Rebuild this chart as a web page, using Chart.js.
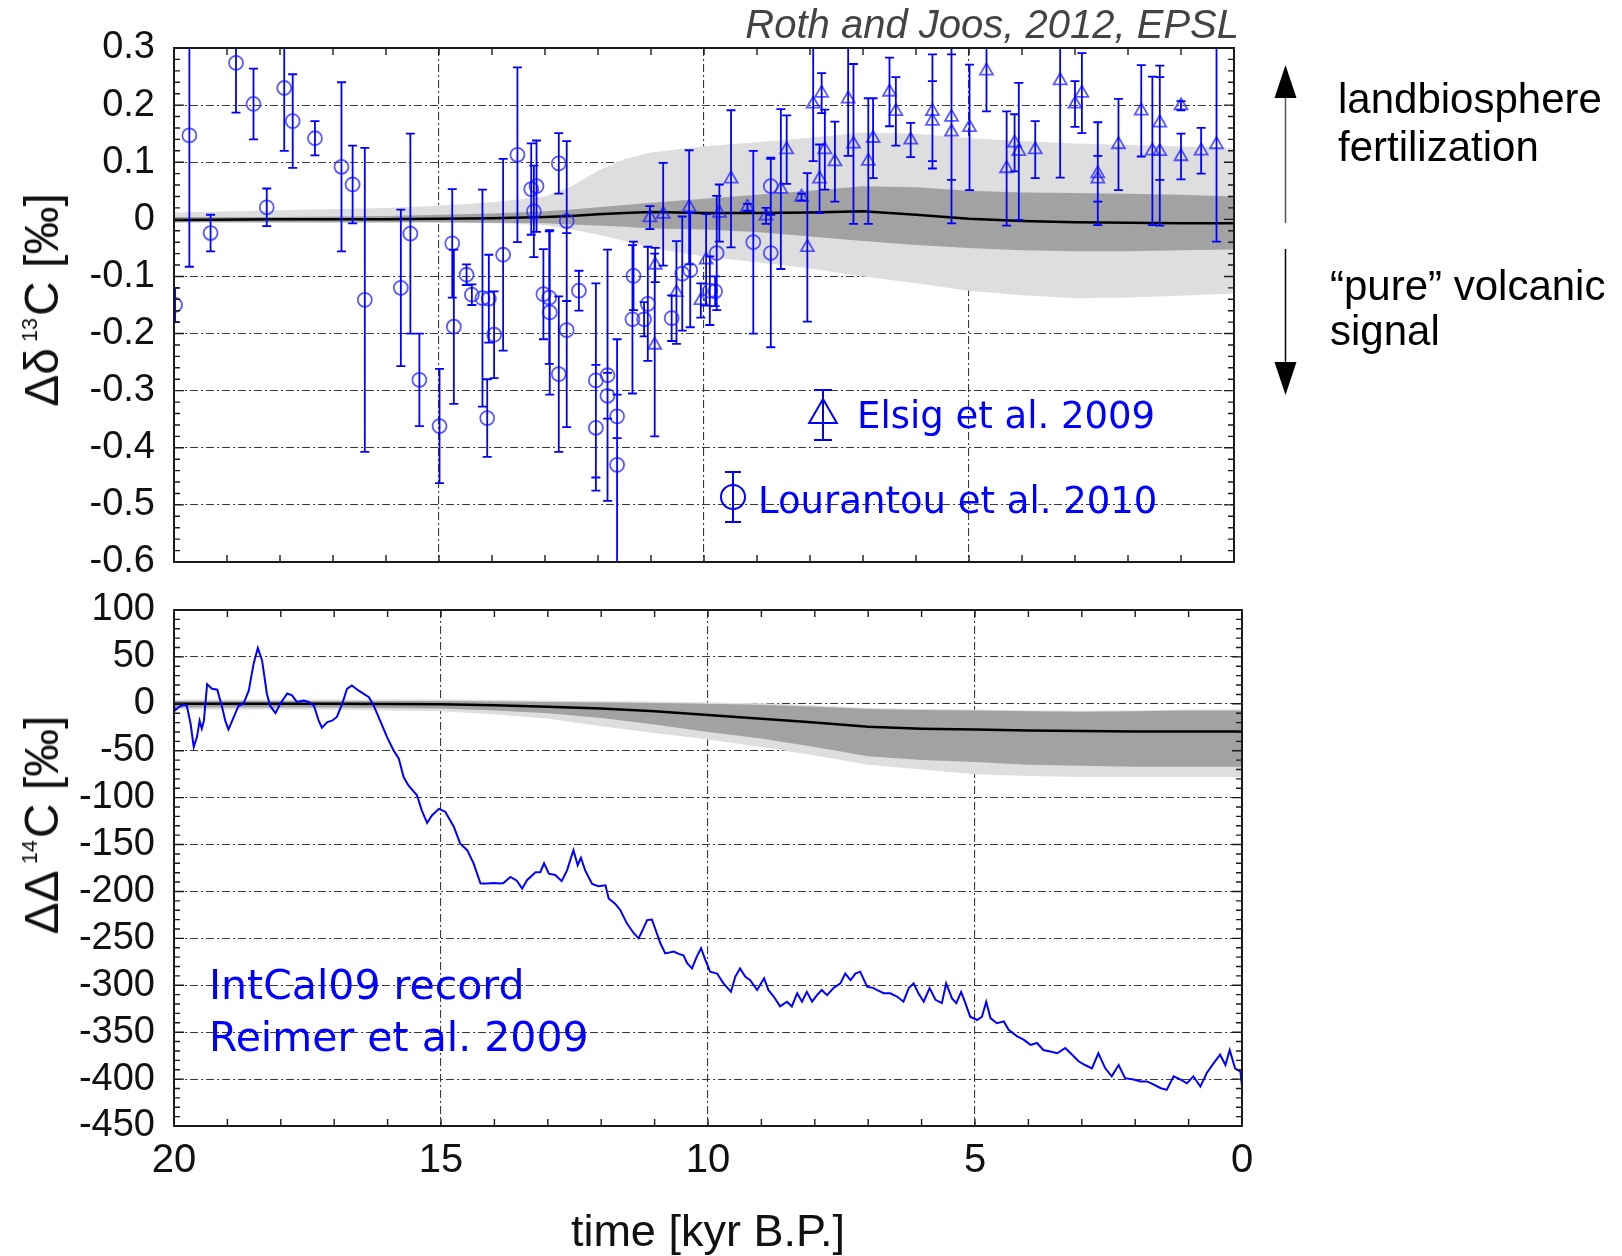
<!DOCTYPE html>
<html>
<head>
<meta charset="utf-8">
<script src="https://cdn.jsdelivr.net/npm/chart.js@4.4.1/dist/chart.umd.min.js"></script>
<style>
  body { margin: 0; background: #fff; }
  #wrap { position: relative; width: 1622px; height: 1256px; overflow: hidden; font-family: "Liberation Sans", Arial, sans-serif; color: #111; }
  canvas { position: absolute; left: 0; }
  .t { position: absolute; white-space: nowrap; line-height: 1; }
  .yt { position: absolute; white-space: nowrap; line-height: 1; font-size: 48px; transform: translate(-50%, -50%) rotate(-90deg); }
  .sup { font-size: 0.45em; position: relative; top: -0.95em; margin: 0 2px 0 6px; }
  .leg { font-family: "DejaVu Sans", sans-serif; font-size: 37px; color: #0000ff; }
  .leg2 { font-family: "DejaVu Sans", sans-serif; font-size: 41px; color: #0000ff; }
  .note { font-size: 42px; color: #000; }
</style>
</head>
<body>
<div id="wrap">
  <canvas id="c13" width="1622" height="607" style="top:0"></canvas>
  <canvas id="c14" width="1622" height="696" style="top:560px"></canvas>

  <div class="t" style="right:383px; top:4px; font-size:40px; font-style:italic; color:#444">Roth and Joos, 2012, EPSL</div>

  <div class="yt" style="left:42px; top:300px">Δδ<span class="sup">13</span>C [‰]</div>
  <div class="yt" style="left:42px; top:825px">ΔΔ<span class="sup">14</span>C [‰]</div>

  <div class="t leg" style="left:857px; top:397px">Elsig et al. 2009</div>
  <div class="t leg" style="left:758px; top:482px">Lourantou et al. 2010</div>
  <div class="t leg2" style="left:209px; top:965px">IntCal09 record</div>
  <div class="t leg2" style="left:209px; top:1017px">Reimer et al. 2009</div>

  <svg style="position:absolute; left:0; top:0" width="1622" height="420">
    <line x1="1285.5" y1="98" x2="1285.5" y2="223" stroke="#555" stroke-width="1.5"/>
    <polygon points="1285.5,65 1274.5,98 1296.5,98" fill="#000"/>
    <line x1="1285.5" y1="249" x2="1285.5" y2="362" stroke="#000" stroke-width="1.5"/>
    <polygon points="1274.5,362 1296.5,362 1285.5,395" fill="#000"/>
  </svg>
  <div class="t note" style="left:1338px; top:75px; line-height:48px">landbiosphere<br>fertilization</div>
  <div class="t note" style="left:1330px; top:263px; line-height:45px">“pure” volcanic<br>signal</div>
</div>

<script>
// ---- top panel: model ensemble for d13C (kyr B.P.)
const bandKyr13 = [20, 18, 16, 15, 14, 13, 12.5, 12, 11.5, 11, 10, 9, 8, 7, 6, 5, 4, 3, 2, 1, 0];
const median13  = [-0.001, 0, 0, 0.001, 0.002, 0.004, 0.006, 0.009, 0.011, 0.013, 0.011, 0.011, 0.012, 0.014, 0.008, 0.001, -0.003, -0.005, -0.006, -0.007, -0.007];
const darkHi13  = [0.004, 0.004, 0.006, 0.008, 0.010, 0.014, 0.017, 0.021, 0.025, 0.029, 0.036, 0.043, 0.050, 0.058, 0.056, 0.050, 0.047, 0.046, 0.045, 0.043, 0.040];
const darkLo13  = [-0.005, -0.005, -0.005, -0.005, -0.006, -0.007, -0.009, -0.011, -0.013, -0.016, -0.018, -0.022, -0.030, -0.038, -0.045, -0.050, -0.054, -0.056, -0.056, -0.054, -0.053];
const lightHi13 = [0.012, 0.016, 0.020, 0.024, 0.030, 0.040, 0.058, 0.085, 0.105, 0.117, 0.128, 0.135, 0.143, 0.152, 0.150, 0.142, 0.137, 0.133, 0.130, 0.128, 0.125];
const lightLo13 = [-0.006, -0.006, -0.006, -0.006, -0.007, -0.010, -0.018, -0.027, -0.038, -0.050, -0.065, -0.075, -0.086, -0.100, -0.112, -0.125, -0.133, -0.138, -0.137, -0.134, -0.130];

// Lourantou et al. 2010 (circles)
const lourKyr = [19.98, 19.71, 19.31, 18.83, 18.50, 18.25, 17.92, 17.76, 17.34, 16.84, 16.63, 16.40, 15.72, 15.54, 15.37, 14.99, 14.75, 14.72, 14.48, 14.38,
                 14.18, 14.09, 14.06, 13.96, 13.79, 13.52, 13.26, 13.21, 13.16, 13.03, 12.92, 12.91, 12.74, 12.74, 12.59, 12.59, 12.36, 12.04, 12.04, 11.82,
                 11.82, 11.64, 11.64, 11.35, 11.33, 11.13, 11.06, 10.61, 10.41, 10.26, 9.89, 9.79, 9.76, 9.07, 8.74, 8.74];
const lourVal = [-0.150, 0.147, -0.024, 0.274, 0.202, 0.021, 0.230, 0.172, 0.142, 0.092, 0.061, -0.141, -0.120, -0.025, -0.281, -0.362, -0.042, -0.188, -0.097, -0.132,
                 -0.138, -0.348, -0.139, -0.202, -0.062, 0.113, 0.053, 0.014, 0.058, -0.131, -0.137, -0.163, 0.098, -0.271, -0.003, -0.194, -0.125, -0.282, -0.365, -0.273,
                 -0.309, -0.345, -0.430, -0.175, -0.099, -0.175, -0.148, -0.173, -0.095, -0.089, -0.125, -0.126, -0.059, -0.040, 0.058, -0.059];
const lourErr = [0.030, 0.230, 0.032, 0.087, 0.062, 0.033, 0.110, 0.082, 0.030, 0.148, 0.068, 0.266, 0.137, 0.175, 0.081, 0.100, 0.095, 0.135, 0.018, 0.018,
                 0.190, 0.068, 0.077, 0.076, 0.168, 0.153, 0.080, 0.080, 0.080, 0.079, 0.116, 0.144, 0.053, 0.136, 0.140, 0.170, 0.035, 0.170, 0.110, 0.220,
                 0.040, 0.038, 0.220, 0.130, 0.060, 0.030, 0.100, 0.040, 0.100, 0.100, 0.060, 0.026, 0.100, 0.160, 0.050, 0.165];

// Elsig et al. 2009 (triangles)
const elsigKyr = [11.02, 10.93, 10.92, 10.77, 10.52, 10.28, 10.06, 9.96, 9.71, 9.49, 9.18, 8.83, 8.55, 8.44, 8.16, 8.05, 7.94, 7.82, 7.78, 7.72,
                  7.53, 7.28, 7.18, 6.90, 6.81, 6.50, 6.38, 6.10, 5.69, 5.69, 5.33, 5.33, 4.99, 4.67, 4.29, 4.14, 4.06, 3.75, 3.28, 3.00,
                  2.87, 2.57, 2.57, 2.18, 1.75, 1.54, 1.40, 1.40, 1.00, 1.00, 0.62, 0.33];
const elsigVal = [0.003, -0.220, -0.080, 0.009, -0.128, 0.021, -0.142, -0.071, 0.011, 0.071, 0.021, 0.006, 0.053, 0.122, 0.039, -0.049, 0.202, 0.071, 0.221, 0.122,
                  0.101, 0.211, 0.132, 0.102, 0.142, 0.223, 0.189, 0.139, 0.189, 0.172, 0.179, 0.153, 0.161, 0.260, 0.089, 0.134, 0.119, 0.122, 0.243, 0.202,
                  0.221, 0.080, 0.071, 0.131, 0.190, 0.120, 0.169, 0.119, 0.199, 0.110, 0.120, 0.131];
const elsigErr = [0.020, 0.160, 0.030, 0.090, 0.090, 0.100, 0.030, 0.080, 0.050, 0.120, 0.006, 0.014, 0.140, 0.060, 0.006, 0.130, 0.100, 0.060, 0.035, 0.070,
                  0.070, 0.100, 0.140, 0.110, 0.070, 0.060, 0.060, 0.030, 0.100, 0.070, 0.110, 0.160, 0.110, 0.071, 0.100, 0.050, 0.120, 0.050, 0.170, 0.040,
                  0.070, 0.090, 0.040, 0.080, 0.080, 0.130, 0.100, 0.130, 0.008, 0.040, 0.040, 0.170];

// ---- bottom panel: model ensemble for D14C
const bandKyr14 = [20, 17, 15, 14, 13, 12, 11, 10, 9, 8, 7, 6, 5, 4, 3, 2, 1, 0];
const median14  = [0, 0, -0.5, -1.5, -3, -5, -8, -12, -16, -20, -24.5, -26.5, -27.5, -28.5, -29, -29.5, -29.5, -29.5];
const darkHi14  = [3, 3, 3, 2.5, 2, 1.5, 1, 0, -1, -3, -5.5, -6.5, -7, -8, -8.5, -8, -7, -7];
const darkLo14  = [-4, -4, -5, -7, -10, -15, -22, -30, -37, -46, -56, -60, -62, -65, -66, -67, -67, -67];
const lightHi14 = [4.5, 4.5, 4.5, 4, 3.5, 3, 2.5, 1.5, 0.5, -1.5, -4.5, -5.5, -6, -7, -7.5, -7, -6, -6];
const lightLo14 = [-6, -6, -8, -11, -16, -24, -31, -38, -46, -55, -65, -70, -75, -77, -78, -78, -78, -78];

// IntCal09 record, Reimer et al. 2009
const intcalKyr = [20.00, 19.98, 19.91, 19.82, 19.76, 19.69, 19.63, 19.57, 19.52, 19.48, 19.44, 19.38, 19.29, 19.19, 19.10, 19.04, 18.98, 18.88, 18.79, 18.70,
  18.60, 18.51, 18.43, 18.35, 18.26, 18.20, 18.10, 18.01, 17.88, 17.79, 17.70, 17.57, 17.48, 17.38, 17.29, 17.23, 17.13, 17.04, 16.95, 16.85,
  16.76, 16.67, 16.54, 16.35, 16.26, 16.14, 16.01, 15.89, 15.79, 15.70, 15.61, 15.45, 15.36, 15.26, 15.17, 15.04, 14.92, 14.76, 14.64, 14.51,
  14.39, 14.26, 14.14, 14.01, 13.89, 13.83, 13.70, 13.58, 13.48, 13.39, 13.23, 13.14, 13.07, 12.98, 12.86, 12.74, 12.64, 12.52, 12.44, 12.38,
  12.30, 12.17, 12.05, 11.92, 11.86, 11.74, 11.64, 11.52, 11.39, 11.30, 11.24, 11.14, 11.05, 10.99, 10.89, 10.80, 10.64, 10.55, 10.46, 10.39,
  10.30, 10.21, 10.13, 10.05, 9.96, 9.83, 9.71, 9.57, 9.49, 9.40, 9.30, 9.21, 9.08, 8.95, 8.87, 8.77, 8.65, 8.52, 8.43, 8.33,
  8.24, 8.15, 8.05, 7.96, 7.87, 7.77, 7.65, 7.52, 7.43, 7.33, 7.24, 7.15, 7.02, 6.90, 6.84, 6.71, 6.59, 6.46, 6.34, 6.24,
  6.15, 6.06, 5.96, 5.85, 5.74, 5.62, 5.54, 5.43, 5.35, 5.26, 5.18, 5.09, 4.96, 4.87, 4.79, 4.71, 4.59, 4.46, 4.37, 4.21,
  4.09, 3.96, 3.84, 3.72, 3.59, 3.46, 3.31, 3.18, 3.06, 2.94, 2.81, 2.69, 2.56, 2.44, 2.31, 2.19, 2.03, 1.90, 1.78, 1.65,
  1.53, 1.41, 1.28, 1.15, 1.03, 0.91, 0.78, 0.66, 0.53, 0.41, 0.31, 0.23, 0.13, 0.03, 0.00];
const intcalVal = [-2, -7, -3.5, -1, -2, -21, -46, -35.5, -18, -26.5, -18, 21, 16, 15, -3.5, -18, -27.5, -14, -2, 0,
  14, 42.5, 59.5, 46, 10.5, -2, -10, 0, 11, 9, 2, 3.5, 2, -2, -18, -25.5, -19.5, -18, -14, 0,
  16, 19.5, 14, 7, -2, -18, -35.5, -49.5, -58.5, -78, -87, -97.5, -113.5, -127, -119, -112, -115, -131, -149, -156,
  -170, -191.5, -191.5, -191, -191.5, -191, -184.5, -188.5, -197, -188, -179.5, -179.5, -170, -181, -182.5, -189, -177.5, -156, -172, -164,
  -177.5, -192, -194.5, -193.5, -207.5, -213, -220, -234, -244.5, -250, -243, -230.5, -230, -239.5, -255.5, -266, -264, -266.5, -268, -276.5,
  -282, -269.5, -260.5, -273, -285.5, -287.5, -298, -307, -291, -282, -291, -294.5, -305, -292.5, -305, -312, -322.5, -317.5, -322.5, -308.5,
  -317.5, -307, -317.5, -310.5, -305, -310.5, -303, -298, -287.5, -294.5, -287.5, -285.5, -301.5, -303, -305, -308.5, -308.5, -312, -317.5, -303,
  -298, -308.5, -317.5, -303, -315.5, -319, -298, -314, -319, -307, -319, -333.5, -337, -333.5, -317.5, -335, -340.5, -338.5, -347.5, -354.5,
  -358, -363.5, -361.5, -369, -370.5, -372.5, -367, -374, -381, -385, -388.5, -372.5, -388.5, -397, -385, -399, -400.5, -402.5, -402.5, -406,
  -409.5, -411.5, -397, -400.5, -404.5, -397, -408, -393.5, -383, -374, -385, -369, -388.5, -392, -408];

const FONT = '"Liberation Sans", Arial, Helvetica, sans-serif';
const GRID = { color: '#3a3a3a', lineWidth: 1.1, drawTicks: false };
const DASH = { display: false, dash: [8, 3, 2, 3] };

const pts = (xs, ys) => xs.map((x, i) => ({ x, y: ys[i] }));

function bands(kyr, lightLo, lightHi, darkLo, darkHi, median) {
  const edge = { borderWidth: 0, pointRadius: 0 };
  return [
    { ...edge, data: pts(kyr, lightLo), order: 3, fill: false },
    { ...edge, data: pts(kyr, lightHi), order: 3, fill: '-1', backgroundColor: '#dedede' },
    { ...edge, data: pts(kyr, darkLo), order: 2, fill: false },
    { ...edge, data: pts(kyr, darkHi), order: 2, fill: '-1', backgroundColor: '#a2a2a2' },
    { data: pts(kyr, median), order: 1, fill: false, borderColor: '#000', borderWidth: 2.5, pointRadius: 0 },
  ];
}

function yAxis(min, max, step, fmt) {
  return {
    type: 'linear', min, max,
    afterFit: s => { s.width = 174; },
    ticks: { stepSize: step, autoSkip: false, padding: 19, color: '#111', font: { size: 38, family: FONT }, callback: fmt },
    grid: GRID,
    border: DASH,
  };
}

// frame with gnuplot-style inward ticks
const frameTicks = {
  id: 'frameTicks',
  afterDraw(chart, args, opts) {
    const { ctx, chartArea: a, scales: { x, y } } = chart;
    ctx.save();
    ctx.strokeStyle = '#1a1a1a';
    ctx.lineWidth = 1.4;
    ctx.beginPath();
    for (let k = 0; k <= 20; k++) {
      const px = x.getPixelForValue(k);
      ctx.moveTo(px, a.top); ctx.lineTo(px, a.top + 7);
      ctx.moveTo(px, a.bottom); ctx.lineTo(px, a.bottom - 7);
    }
    const n = Math.round((y.max - y.min) / opts.yMinor);
    for (let i = 0; i <= n; i++) {
      const py = y.getPixelForValue(y.min + i * opts.yMinor);
      const len = i % 5 === 0 ? 10 : 6;
      ctx.moveTo(a.left, py); ctx.lineTo(a.left + len, py);
      ctx.moveTo(a.right, py); ctx.lineTo(a.right - len, py);
    }
    ctx.stroke();
    ctx.lineWidth = 2;
    ctx.strokeRect(a.left, a.top, a.right - a.left, a.bottom - a.top);
    ctx.restore();
  }
};

// vertical error bars for datasets that carry an errors array
const errorBars = {
  id: 'errorBars',
  afterDatasetDraw(chart, args) {
    const ds = chart.data.datasets[args.index];
    if (!ds.errors) return;
    const { ctx, chartArea: a, scales: { x, y } } = chart;
    ctx.save();
    ctx.beginPath();
    ctx.rect(a.left, a.top, a.right - a.left, a.bottom - a.top);
    ctx.clip();
    ctx.strokeStyle = '#0000ff';
    ctx.lineWidth = 1.8;
    ctx.beginPath();
    ds.data.forEach((p, i) => {
      const px = x.getPixelForValue(p.x);
      const hi = y.getPixelForValue(p.y + ds.errors[i]);
      const lo = y.getPixelForValue(p.y - ds.errors[i]);
      ctx.moveTo(px, hi); ctx.lineTo(px, lo);
      ctx.moveTo(px - 4.5, hi); ctx.lineTo(px + 4.5, hi);
      ctx.moveTo(px - 4.5, lo); ctx.lineTo(px + 4.5, lo);
    });
    ctx.stroke();
    ctx.restore();
  }
};

// key symbols for the two records
const key13 = {
  id: 'key13',
  afterDatasetsDraw(chart) {
    const { ctx, chartArea: a } = chart;
    const items = [
      { pointStyle: 'triangle', radius: 16, dx: 649, dy: 367, err: 25, cap: 9 },
      { pointStyle: 'circle', radius: 12, dx: 559, dy: 449, err: 25, cap: 8 },
    ];
    ctx.save();
    ctx.strokeStyle = '#0000ff';
    ctx.fillStyle = 'rgba(0,0,0,0)';
    ctx.lineWidth = 2;
    items.forEach(it => {
      const cx = a.left + it.dx, cy = a.top + it.dy;
      ctx.beginPath();
      ctx.moveTo(cx, cy - it.err); ctx.lineTo(cx, cy + it.err);
      ctx.moveTo(cx - it.cap, cy - it.err); ctx.lineTo(cx + it.cap, cy - it.err);
      ctx.moveTo(cx - it.cap, cy + it.err); ctx.lineTo(cx + it.cap, cy + it.err);
      ctx.stroke();
      Chart.helpers.drawPoint(ctx, { pointStyle: it.pointStyle, radius: it.radius, rotation: 0, borderWidth: 2 }, cx, cy);
    });
    ctx.restore();
  }
};

const common = { responsive: false, animation: false, devicePixelRatio: 1 };

new Chart(document.getElementById('c13'), {
  type: 'line',
  data: {
    datasets: [
      ...bands(bandKyr13, lightLo13, lightHi13, darkLo13, darkHi13, median13),
      { data: pts(lourKyr, lourVal), errors: lourErr, showLine: false, order: 0,
        pointStyle: 'circle', pointRadius: 7, pointBorderWidth: 1.8,
        pointBorderColor: 'rgba(35,35,255,0.75)', pointBackgroundColor: 'rgba(0,0,0,0)' },
      { data: pts(elsigKyr, elsigVal), errors: elsigErr, showLine: false, order: 0,
        pointStyle: 'triangle', pointRadius: 7.5, pointBorderWidth: 1.8,
        pointBorderColor: 'rgba(35,35,255,0.75)', pointBackgroundColor: 'rgba(0,0,0,0)' },
    ],
  },
  options: {
    ...common,
    layout: { padding: { top: 48, right: 388, left: 0, bottom: 0 } },
    plugins: { legend: { display: false }, tooltip: { enabled: false }, frameTicks: { yMinor: 0.02 } },
    scales: {
      x: { type: 'linear', min: 0, max: 20, reverse: true,
           afterFit: s => { s.height = 45; },
           ticks: { display: false, stepSize: 5 }, grid: GRID, border: DASH },
      y: yAxis(-0.6, 0.3, 0.1, v => Math.abs(v) < 1e-9 ? '0' : v.toFixed(1)),
    },
  },
  plugins: [frameTicks, errorBars, key13],
});

new Chart(document.getElementById('c14'), {
  type: 'line',
  data: {
    datasets: [
      ...bands(bandKyr14, lightLo14, lightHi14, darkLo14, darkHi14, median14),
      { data: pts(intcalKyr, intcalVal), order: 0, borderColor: '#0000ff', borderWidth: 2, pointRadius: 0, tension: 0, fill: false },
    ],
  },
  options: {
    ...common,
    layout: { padding: { top: 50, right: 380, left: 0, bottom: 0 } },
    plugins: { legend: { display: false }, tooltip: { enabled: false }, frameTicks: { yMinor: 10 } },
    scales: {
      x: { type: 'linear', min: 0, max: 20, reverse: true,
           afterFit: s => { s.height = 130; },
           ticks: { stepSize: 5, autoSkip: false, maxRotation: 0, padding: 11, color: '#111', font: { size: 40, family: FONT } },
           title: { display: true, text: 'time [kyr B.P.]', color: '#111', font: { size: 45, family: FONT, lineHeight: 1 }, padding: { top: 0, bottom: 0 } },
           grid: GRID, border: DASH },
      y: yAxis(-450, 100, 50, v => String(v)),
    },
  },
  plugins: [frameTicks],
});
</script>
</body>
</html>
